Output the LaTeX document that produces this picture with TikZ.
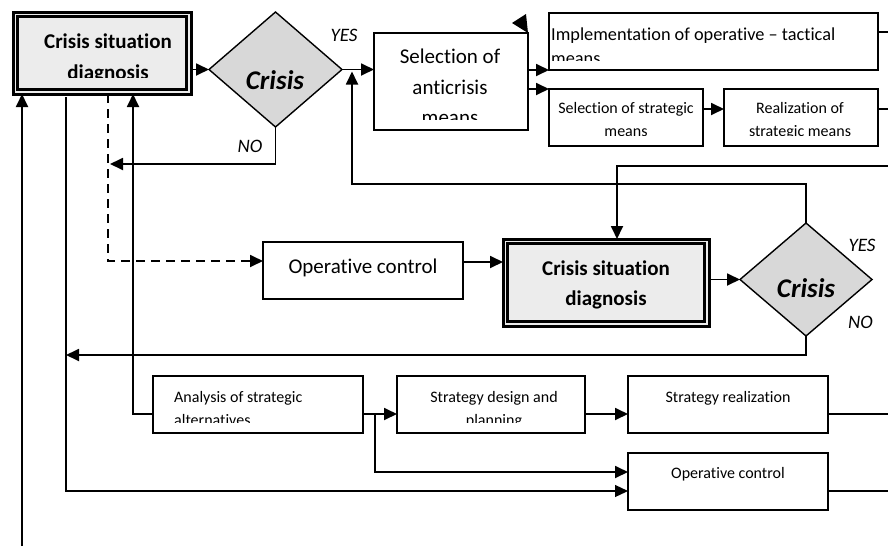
\documentclass[tikz,border=0pt]{standalone}
\usepackage{fontspec}
\setmainfont{Carlito}[Ligatures={NoCommon,NoContextual}]
\usetikzlibrary{arrows.meta,shapes.geometric,calc}
\definecolor{boxgray}{RGB}{236,236,236}
\definecolor{diagray}{RGB}{216,216,216}

\begin{document}
\begin{tikzpicture}[x=1pt,y=-1pt,
  box/.style={draw, line width=1.4pt, inner sep=0pt, outer sep=0pt, fill=white},
  dbox/.style={draw, line width=3pt, inner sep=0pt, outer sep=0pt, fill=boxgray},
  decision/.style={diamond, draw, line width=1.4pt, fill=diagray, inner sep=0pt, outer sep=0pt},
  conn/.style={line width=1.8pt},
  arr/.style={conn, -{Triangle[length=13pt,width=12pt]}},
  thinarr/.style={line width=1.2pt, -{Triangle[length=13pt,width=12pt]}},
  txt/.style={anchor=base, inner sep=0pt},
  txtl/.style={anchor=base west, inner sep=0pt},
  fsmall/.style={font=\fontsize{16}{19}\selectfont},
  fmid/.style={font=\fontsize{18.3}{22}\selectfont},
  fbig/.style={font=\fontsize{21}{25}\selectfont},
  fdiag/.style={font=\fontsize{21}{25}\selectfont\bfseries},
  fcrisis/.style={font=\fontsize{27}{32}\selectfont\bfseries\itshape},
  flabel/.style={font=\fontsize{19}{23}\selectfont\itshape},
]
\useasboundingbox (0,0) rectangle (888,546);

% ---------- boxes ----------
\node[dbox, minimum width=178pt, minimum height=82pt] (diag1) at (102,53) {};
\draw[line width=2.5pt] ($(diag1.north west)+(4.5,4.5)$) rectangle ($(diag1.south east)+(-4.5,-4.5)$);
\node[decision, minimum width=133pt, minimum height=115pt] (dia1) at (275.5,69.5) {};
\node[box, minimum width=154pt, minimum height=97pt] (sel) at (451,81.5) {};
\node[box, minimum width=329pt, minimum height=57pt] (impl) at (713.5,41.5) {};
\node[box, minimum width=154pt, minimum height=57pt] (selstr) at (626,117.5) {};
\node[box, minimum width=154pt, minimum height=57pt] (real) at (801,117.5) {};
\node[box, minimum width=200pt, minimum height=57pt] (op1) at (363,270.5) {};
\node[dbox, minimum width=206pt, minimum height=87pt] (diag2) at (606,282.5) {};
\draw[line width=2.5pt] ($(diag2.north west)+(4.5,4.5)$) rectangle ($(diag2.south east)+(-4.5,-4.5)$);
\node[decision, minimum width=132pt, minimum height=113pt] (dia2) at (806,279.5) {};
\node[box, minimum width=210pt, minimum height=57pt] (ana) at (258,404.5) {};
\node[box, minimum width=188pt, minimum height=57pt] (sdp) at (491,404.5) {};
\node[box, minimum width=200pt, minimum height=57pt] (sr) at (728,404.5) {};
\node[box, line width=1.2pt, minimum width=200pt, minimum height=57pt] (op2) at (728,481.5) {};

% ---------- texts ----------
\node[txt, fdiag] (t1a) at (108,48.5) {Crisis situation};
\begin{scope}
  \clip (diag1.north west) rectangle ($(diag1.south east)+(0,-16.5)$);
  \node[txt, fdiag] (t1b) at (108,79) {diagnosis};
\end{scope}
\node[txt, fcrisis] (c1) at (275,89) {Crisis};
\node[txt, flabel] (yes1) at (344,41.7) {YES};
\node[txt, flabel] (no1) at (250,152.7) {NO};

\begin{scope}
  \clip (sel.north west) rectangle ($(sel.south east)+(0,-11)$);
  \node[txt, fbig] (t2a) at (450,63.5) {Selection of};
  \node[txt, fbig] (t2b) at (450,94) {anticrisis};
  \node[txt, fbig] (t2c) at (450,124.5) {means};
\end{scope}
\begin{scope}
  \clip (impl.north west) rectangle ($(impl.south east)+(0,-10)$);
  \node[txtl, fmid] (t3a) at (551,40) {Implementation of operative – tactical};
  \node[txtl, fmid] (t3b) at (551,64.5) {means};
\end{scope}
\begin{scope}
  \clip (selstr.north west) rectangle ($(selstr.south east)+(0,-10.5)$);
  \node[txt, fsmall] (t4a) at (626,113.6) {Selection of strategic};
  \node[txt, fsmall] (t4b) at (626,136.8) {means};
\end{scope}
\begin{scope}
  \clip (real.north west) rectangle ($(real.south east)+(0,-10.5)$);
  \node[txt, fsmall] (t5a) at (800,113.6) {Realization of};
  \node[txt, fsmall] (t5b) at (800,136.8) {strategic means};
\end{scope}
\node[txt, fbig] (t6) at (363,273.3) {Operative control};
\node[txt, fdiag] (t7a) at (606,275.7) {Crisis situation};
\node[txt, fdiag] (t7b) at (606,305) {diagnosis};
\node[txt, fcrisis] (c2) at (806,297.3) {Crisis};
\node[txt, flabel] (yes2) at (862,251.7) {YES};
\node[txt, flabel] (no2) at (860.5,328.3) {NO};
\begin{scope}
  \clip (ana.north west) rectangle ($(ana.south east)+(0,-10.5)$);
  \node[txtl, fsmall] (t8a) at (174,402.7) {Analysis of strategic};
  \node[txtl, fsmall] (t8b) at (174,425.7) {alternatives};
\end{scope}
\begin{scope}
  \clip (sdp.north west) rectangle ($(sdp.south east)+(0,-10.5)$);
  \node[txt, fsmall] (t9a) at (494,402.7) {Strategy design and};
  \node[txt, fsmall] (t9b) at (494,425.7) {planning};
\end{scope}
\node[txt, fsmall] (t10) at (728,402.7) {Strategy realization};
\node[txt, fsmall] (t11) at (728,478.3) {Operative control};

% stray arrow head above the selection box
\fill (512,23) -- (526,14) -- (528,33) -- cycle;

% ---------- connectors: upper part ----------
\draw[arr] (diag1.east |- dia1.west) -- (dia1.west);
\draw[arr] (dia1.east) -- (dia1.east -| sel.west);
\draw[arr] (impl.south west -| sel.east) -- (impl.south west);
\draw[arr] (selstr.north west -| sel.east) -- (selstr.north west);
\coordinate (s1) at ($(selstr.east)+(0,-8.5)$);
\draw[arr] (s1) -- (s1 -| real.west);
\coordinate (i1) at ($(impl.east)+(0,-9.5)$);
\coordinate (iout) at (888,32);
\draw[conn] (i1) -- (iout);
\coordinate (rout) at (888,109);
\draw[conn] (s1 -| real.east) -- (rout);

% NO branch of the first decision
\draw[arr] (dia1.south) -- ++(0,37) coordinate (n1) -- ($(n1 -| diag1.south west)+(97,0)$);

% return loop from the second decision
\draw[arr] (dia2.north) -- ++(0,-39) -| ($(dia1.east)+(10,2)$);

% incoming line from the right
\coordinate (rin) at (888,166);
\draw[arr] (rin) -| ($(diag2.north)+(11,0)$);

% ---------- connectors: middle ----------
\draw[arr, dash pattern=on 9pt off 6pt] ($(diag1.south west)+(95,0)$) |- ($(op1.west)+(0,-9.5)$);
\coordinate (o1) at ($(op1.east)+(0,-8.5)$);
\draw[arr] (o1) -- (o1 -| diag2.west);
\draw[arr] (dia2.west -| diag2.east) -- (dia2.west);
\coordinate (L66) at ($(diag1.south west)+(53,3)$);
\draw[arr] (dia2.south) -- ++(0,19) coordinate (n2) -- (n2 -| L66);

% ---------- connectors: left verticals ----------
\coordinate (bot) at (22,546);
\draw[arr] (bot) -- (bot |- diag1.south);
\draw[thinarr] (L66) |- ($(op2.west)+(0,9.5)$);
\draw[arr] ($(ana.west)+(0,9.5)$) -| ($(diag1.south west)+(120,0)$);

% ---------- connectors: lower part ----------
\coordinate (a1) at ($(ana.east)+(0,9.5)$);
\draw[arr] (a1) -- (a1 -| sdp.west);
\draw[arr] ($(a1)+(12,0)$) |- ($(op2.west)+(0,-9.5)$);
\coordinate (d1) at ($(sdp.east)+(0,9.5)$);
\draw[arr] (d1) -- (d1 -| sr.west);
\coordinate (srout) at (888,414);
\draw[conn] (d1 -| sr.east) -- (srout);
\coordinate (opout) at (888,491);
\draw[line width=1.2pt] ($(op2.east)+(0,9.5)$) -- (opout);
\end{tikzpicture}
\end{document}
